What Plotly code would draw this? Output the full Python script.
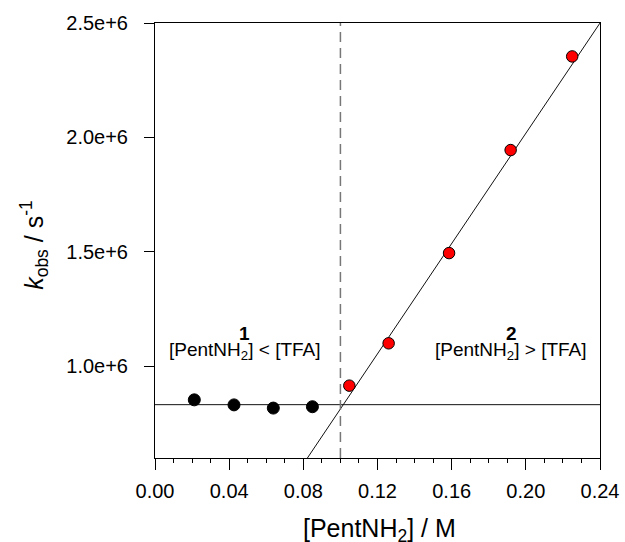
import plotly.graph_objects as go

# Data
x_low = [0.0212, 0.0426, 0.0638, 0.0849]
k_low = [0.854e6, 0.832e6, 0.818e6, 0.824e6]
x_high = [0.1048, 0.126, 0.1586, 0.1918, 0.225]
k_high = [0.916e6, 1.101e6, 1.495e6, 1.945e6, 2.354e6]

plateau_k = 0.833e6
fit_slope = 1.204e7
fit_intercept = -0.3897e6
x_equiv = 0.10

x_range = [0.0, 0.24]
y_range = [0.6e6, 2.5e6]
x_tickvals = [0.0, 0.04, 0.08, 0.12, 0.16, 0.20, 0.24]
x_ticktext = ["0.00", "0.04", "0.08", "0.12", "0.16", "0.20", "0.24"]
y_tickvals = [1.0e6, 1.5e6, 2.0e6, 2.5e6]
y_ticktext = ["1.0e+6", "1.5e+6", "2.0e+6", "2.5e+6"]
x_title = "[PentNH<sub>2</sub>] / M"
y_title = "<i>k</i><sub>obs</sub> / s<sup>-1</sup>"

FONT = "Liberation Sans, Arial, sans-serif"

fig = go.Figure()

# plateau line
fig.add_trace(go.Scatter(x=x_range, y=[plateau_k, plateau_k], mode="lines",
                         line=dict(color="#111111", width=1), showlegend=False,
                         hoverinfo="skip"))
# linear fit line
x_fit0 = (y_range[0] - fit_intercept) / fit_slope
x_fit1 = min(x_range[1], (y_range[1] - fit_intercept) / fit_slope)
fig.add_trace(go.Scatter(x=[x_fit0, x_fit1],
                         y=[fit_slope * x_fit0 + fit_intercept, fit_slope * x_fit1 + fit_intercept],
                         mode="lines", line=dict(color="#111111", width=1),
                         showlegend=False, hoverinfo="skip"))
# dashed equivalence line
fig.add_trace(go.Scatter(x=[x_equiv, x_equiv], y=y_range, mode="lines",
                         line=dict(color="#777777", width=1.5, dash="10px,6px"),
                         showlegend=False, hoverinfo="skip"))

fig.add_trace(go.Scatter(x=x_low, y=k_low, mode="markers",
                         marker=dict(size=12, color="black", line=dict(color="black", width=1)),
                         showlegend=False, cliponaxis=False))
fig.add_trace(go.Scatter(x=x_high, y=k_high, mode="markers",
                         marker=dict(size=11.5, color="#ff0000", line=dict(color="black", width=1)),
                         showlegend=False, cliponaxis=False))

ann_font = dict(family=FONT, size=19, color="black")
fig.add_annotation(x=0.0485, y=1.145e6, text="<b>1</b>", showarrow=False, font=ann_font)
fig.add_annotation(x=0.0485, y=1.066e6, text="[PentNH<sub>2</sub>] &lt; [TFA]",
                   showarrow=False, font=ann_font)
fig.add_annotation(x=0.192, y=1.145e6, text="<b>2</b>", showarrow=False, font=ann_font)
fig.add_annotation(x=0.192, y=1.066e6, text="[PentNH<sub>2</sub>] &gt; [TFA]",
                   showarrow=False, font=ann_font)

# axis titles as paper annotations
title_font = dict(family=FONT, size=25, color="black")
fig.add_annotation(xref="paper", yref="paper", x=0.505, y=0, yanchor="middle",
                   yshift=-72, text=x_title, showarrow=False, font=title_font)
fig.add_annotation(xref="paper", yref="paper", x=0, y=0.49, xanchor="center",
                   xshift=-121, textangle=-90, text=y_title, showarrow=False,
                   font=title_font)

fig.update_layout(
    width=625, height=542,
    margin=dict(l=155, r=25, t=23, b=84),
    paper_bgcolor="white", plot_bgcolor="white",
    font=dict(family=FONT, size=20, color="black"),
    showlegend=False,
)
fig.update_xaxes(
    range=x_range, tickvals=x_tickvals, ticktext=x_ticktext, automargin=False,
    showgrid=False, zeroline=False, showline=True, mirror=True,
    linecolor="black", linewidth=1, ticks="outside", ticklen=11, tickwidth=1,
    tickcolor="black",
    minor=dict(dtick=0.01, tick0=0, ticks="outside", ticklen=4, tickwidth=1, tickcolor="black"),
    tickfont=dict(size=20), ticklabelstandoff=4,
)
fig.update_yaxes(
    range=y_range, tickvals=y_tickvals, ticktext=y_ticktext, automargin=False,
    showgrid=False, zeroline=False, showline=True, mirror=True,
    linecolor="black", linewidth=1, ticks="outside", ticklen=10, tickwidth=1,
    tickcolor="black", tickfont=dict(size=20), ticklabelstandoff=12,
)

fig.write_html("out.html", config={"displayModeBar": False},
               post_script="document.body.style.margin='0';")
